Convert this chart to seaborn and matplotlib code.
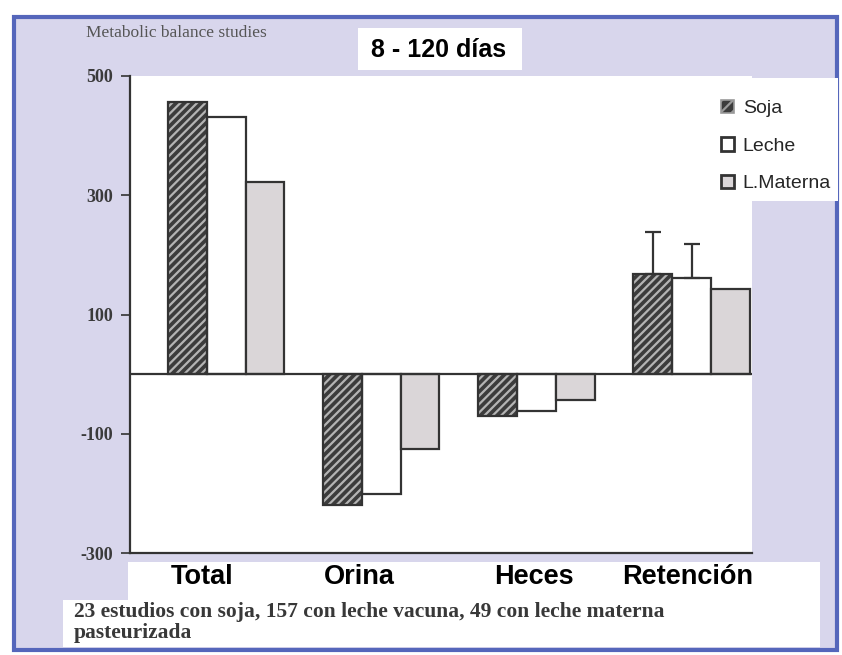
import matplotlib
matplotlib.use("Agg")
import matplotlib.pyplot as plt
import matplotlib.transforms as mtransforms
from matplotlib.patches import Rectangle, Patch
import seaborn as sns
import pandas as pd

# ---- data -------------------------------------------------------------
categories = ["Total", "Orina", "Heces", "Retención"]
groups = ["Soja", "Leche", "L.Materna"]
soja = [457, -219, -71, 168]
leche = [431, -201, -62, 161]
materna = [322, -125, -43, 143]
# upper error (only reported for retention)
soja_err = [None, None, None, 70]
leche_err = [None, None, None, 57]
materna_err = [None, None, None, None]
y_ticks = [500, 300, 100, -100, -300]

title = "8 - 120 días"
subtitle = "Metabolic balance studies"
footnote = ["23 estudios con soja, 157 con leche vacuna, 49 con leche materna",
            "pasteurizada"]

df = pd.DataFrame({
    "categoria": categories * 3,
    "grupo": [g for g in groups for _ in categories],
    "valor": soja + leche + materna,
})

# ---- styling ----------------------------------------------------------
sns.set_style("white")
plt.rcParams["font.family"] = ["Liberation Sans", "DejaVu Sans"]
plt.rcParams["hatch.linewidth"] = 1.6

W, H = 842, 655
DARK = "#333333"
palette = {"Soja": "#3c3c3c", "Leche": "#ffffff", "L.Materna": "#dad6d8"}

fig = plt.figure(figsize=(W / 100, H / 100), dpi=100)
fig.patch.set_facecolor("white")


def px_rect(x0, y0, x1, y1, **kw):
    """Rectangle given in pixel coordinates (origin top-left)."""
    r = Rectangle((x0 / W, 1 - y1 / H), (x1 - x0) / W, (y1 - y0) / H,
                  transform=fig.transFigure, **kw)
    fig.add_artist(r)
    return r


# slide panel with blue frame
px_rect(14, 17, 837, 650, facecolor="#d8d6ec", edgecolor="#5566bb",
        linewidth=3, zorder=-10)

ax = fig.add_axes([130 / W, 1 - 553 / H, (752 - 130) / W, (553 - 76) / H])
ax.set_facecolor("white")

sns.barplot(data=df, x="categoria", y="valor", hue="grupo",
            order=categories, hue_order=groups, palette=palette,
            width=0.75, saturation=1, edgecolor=DARK, linewidth=1.6,
            errorbar=None, legend=False, ax=ax)

# hatched soy bars: light hatch lines over dark fill, dark outline on top
for p in ax.containers[0]:
    p.set_edgecolor("#b4b4b4")
    p.set_linewidth(0)
    p.set_hatch("////")
    ax.add_patch(Rectangle(p.get_xy(), p.get_width(), p.get_height(),
                           fill=False, edgecolor=DARK, linewidth=1.6, zorder=3))

# one-sided (upper) error bars
for cont, errs, vals in zip(ax.containers, [soja_err, leche_err, materna_err],
                            [soja, leche, materna]):
    for bar, e, v in zip(cont, errs, vals):
        if e is None:
            continue
        cx = bar.get_x() + bar.get_width() / 2
        ax.errorbar([cx], [v], yerr=[[0], [e]], fmt="none", ecolor=DARK,
                    elinewidth=1.6, capsize=6, capthick=1.6, zorder=2)

ax.axhline(0, color=DARK, linewidth=1.6, zorder=4)
ax.set_ylim(-300, 500)
ax.set_xlim(-0.62, 3.39)
ax.set_yticks(y_ticks)
ax.set_yticklabels([str(t) for t in y_ticks], fontfamily="Liberation Serif",
                   fontweight="bold", fontsize=13, color="#3a3a3a")
ax.tick_params(axis="y", direction="out", length=6.5, width=1.2, color=DARK,
               pad=5.5, left=True)
ax.tick_params(axis="x", length=0, pad=8)
ax.set_xlabel("")
ax.set_ylabel("")
for side in ("top", "right"):
    ax.spines[side].set_visible(False)
for side in ("left", "bottom"):
    ax.spines[side].set_color(DARK)
    ax.spines[side].set_linewidth(1.6)

# category labels
label_shift_px = [-24, -22, -2, -4]
ax.set_xticks(range(len(categories)))
ax.set_xticklabels(categories, fontweight="bold", fontsize=19.5,
                   color="black")
for lab, dx in zip(ax.get_xticklabels(), label_shift_px):
    lab.set_transform(lab.get_transform() +
                      mtransforms.ScaledTranslation(dx / 100, 0,
                                                    fig.dpi_scale_trans))

# white strips for labels and footnote
px_rect(128, 562, 820, 600, facecolor="white", edgecolor="none", zorder=-5)
px_rect(63, 600, 820, 647, facecolor="white", edgecolor="none", zorder=-5)
# title box
px_rect(358, 28, 522, 70, facecolor="white", edgecolor="none", zorder=1)
fig.text(439 / W, 1 - 50 / H, title, ha="center", va="center",
         fontsize=18, fontweight="bold", color="black", zorder=2)

fig.text(86 / W, 1 - 33 / H, subtitle, ha="left", va="center",
         fontsize=12.5, fontfamily="Liberation Serif", color="#555555")

fig.text(74 / W, 1 - 612 / H, footnote[0], ha="left", va="center",
         fontsize=15.5, fontweight="bold", fontfamily="Liberation Serif",
         color="#383838")
fig.text(74 / W, 1 - 633 / H, footnote[1], ha="left", va="center",
         fontsize=15.5, fontweight="bold", fontfamily="Liberation Serif",
         color="#383838")

# legend
px_rect(700, 78, 838, 201, facecolor="white", edgecolor="none", zorder=1)
handles = [
    Patch(facecolor=palette["Soja"], edgecolor="#9a9a9a", hatch="///",
          linewidth=1.2),
    Patch(facecolor=palette["Leche"], edgecolor=DARK, linewidth=2),
    Patch(facecolor=palette["L.Materna"], edgecolor=DARK, linewidth=2),
]
leg = fig.legend(handles, groups, loc="upper left",
                 bbox_to_anchor=(711 / W, 1 - 90 / H), frameon=False,
                 fontsize=14, handlelength=0.68, handleheight=0.68,
                 handletextpad=0.45, labelspacing=1.03, borderpad=0)
leg.set_zorder(3)

fig.savefig("out.png", dpi=100)
